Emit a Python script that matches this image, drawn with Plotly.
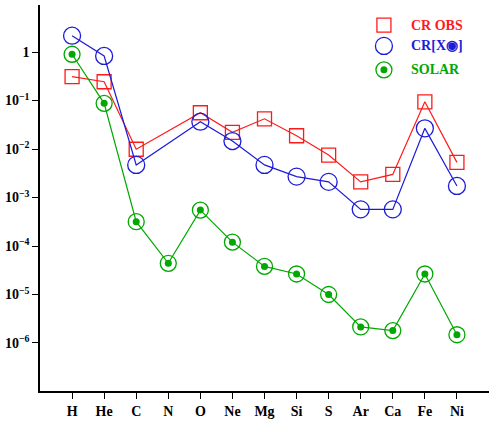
import plotly.graph_objects as go

elements = ["H", "He", "C", "N", "O", "Ne", "Mg", "Si", "S", "Ar", "Ca", "Fe", "Ni"]
cr_obs = [0.31, 0.244, 0.0099, None, 0.056, 0.0221, 0.042, 0.0188, 0.0075, 0.0021, 0.0030, 0.094, 0.0053]
cr_x = [2.17, 0.83, 0.0047, None, 0.0366, 0.0146, 0.0047, 0.0027, 0.0021, 0.00057, 0.00057, 0.0267, 0.00173]
solar = [0.90, 0.0875, 3.17e-4, 4.4e-5, 5.5e-4, 1.2e-4, 3.8e-5, 2.65e-5, 1.0e-5, 2.14e-6, 1.8e-6, 2.65e-5, 1.48e-6]

ytick_vals = [1, 1e-1, 1e-2, 1e-3, 1e-4, 1e-5, 1e-6]
ytick_text = ["1", "10<sup>−1</sup>", "10<sup>−2</sup>", "10<sup>−3</sup>",
              "10<sup>−4</sup>", "10<sup>−5</sup>", "10<sup>−6</sup>"]

legend_labels = ["CR OBS", "CR[X◉]", "SOLAR"]

RED = "#ff1a1a"
BLUE = "#1c1cd8"
GREEN = "#00a800"
FONT = "Liberation Serif"

def pairs(vals):
    xs = [e for e, v in zip(elements, vals) if v is not None]
    ys = [v for v in vals if v is not None]
    return xs, ys

fig = go.Figure()

x, y = pairs(cr_obs)
fig.add_trace(go.Scatter(x=x, y=y, mode="lines+markers",
                         line=dict(color=RED, width=1.2),
                         marker=dict(symbol="square-open", size=14, color=RED, line=dict(width=1.3)),
                         showlegend=False))
x, y = pairs(cr_x)
fig.add_trace(go.Scatter(x=x, y=y, mode="lines+markers",
                         line=dict(color=BLUE, width=1.2),
                         marker=dict(symbol="circle-open", size=17, color=BLUE, line=dict(width=1.3)),
                         showlegend=False))
x, y = pairs(solar)
fig.add_trace(go.Scatter(x=x, y=y, mode="lines+markers",
                         line=dict(color=GREEN, width=1.2),
                         marker=dict(symbol="circle-open", size=16, color=GREEN, line=dict(width=1.3)),
                         showlegend=False))
fig.add_trace(go.Scatter(x=x, y=y, mode="markers",
                         marker=dict(symbol="circle", size=7, color=GREEN),
                         showlegend=False))

# custom legend (overlay axes in unit coordinates)
leg_x = [0.766, 0.766, 0.766]
leg_y = [0.948, 0.894, 0.832]
fig.add_trace(go.Scatter(x=[leg_x[0]], y=[leg_y[0]], xaxis="x2", yaxis="y2", mode="markers",
                         marker=dict(symbol="square-open", size=14, color=RED, line=dict(width=1.3)),
                         showlegend=False, hoverinfo="skip"))
fig.add_trace(go.Scatter(x=[leg_x[1]], y=[leg_y[1]], xaxis="x2", yaxis="y2", mode="markers",
                         marker=dict(symbol="circle-open", size=17, color=BLUE, line=dict(width=1.3)),
                         showlegend=False, hoverinfo="skip"))
fig.add_trace(go.Scatter(x=[leg_x[2]], y=[leg_y[2]], xaxis="x2", yaxis="y2", mode="markers",
                         marker=dict(symbol="circle-open", size=16, color=GREEN, line=dict(width=1.3)),
                         showlegend=False, hoverinfo="skip"))
fig.add_trace(go.Scatter(x=[leg_x[2]], y=[leg_y[2]], xaxis="x2", yaxis="y2", mode="markers",
                         marker=dict(symbol="circle", size=7, color=GREEN),
                         showlegend=False, hoverinfo="skip"))

for lab, yy, col in zip(legend_labels, leg_y, [RED, BLUE, GREEN]):
    fig.add_annotation(x=0.822, y=yy, xref="x2", yref="y2", text="<b>" + lab + "</b>",
                       showarrow=False, xanchor="left", yanchor="middle",
                       font=dict(family=FONT, size=14, color=col))

fig.update_layout(
    width=489, height=428,
    margin=dict(l=40, r=0, t=5, b=37),
    paper_bgcolor="white", plot_bgcolor="white",
    font=dict(family=FONT, size=14, color="black"),
    xaxis=dict(type="category", categoryorder="array", categoryarray=elements,
               range=[-1, 13], showgrid=False, zeroline=False, automargin=False,
               showline=True, linecolor="black", linewidth=1.5,
               ticks="outside", ticklen=6, tickcolor="black", tickwidth=1,
               tickvals=elements, ticktext=["<b>" + e + "</b>" for e in elements],
               tickfont=dict(family=FONT, size=14, color="black")),
    yaxis=dict(type="log", range=[-6.99, 0.97], showgrid=False, zeroline=False, automargin=False,
               showline=True, linecolor="black", linewidth=1.5,
               ticks="outside", ticklen=6, tickcolor="black", tickwidth=1,
               tickvals=ytick_vals, ticktext=["<b>" + t + "</b>" for t in ytick_text],
               tickfont=dict(family=FONT, size=14, color="black")),
    xaxis2=dict(overlaying="x", range=[0, 1], visible=False, fixedrange=True),
    yaxis2=dict(overlaying="y", range=[0, 1], visible=False, fixedrange=True),
    showlegend=False,
)

fig.write_html("out.html", config={"displayModeBar": False},
               post_script="document.body.style.margin='0';document.body.style.overflow='hidden';")
